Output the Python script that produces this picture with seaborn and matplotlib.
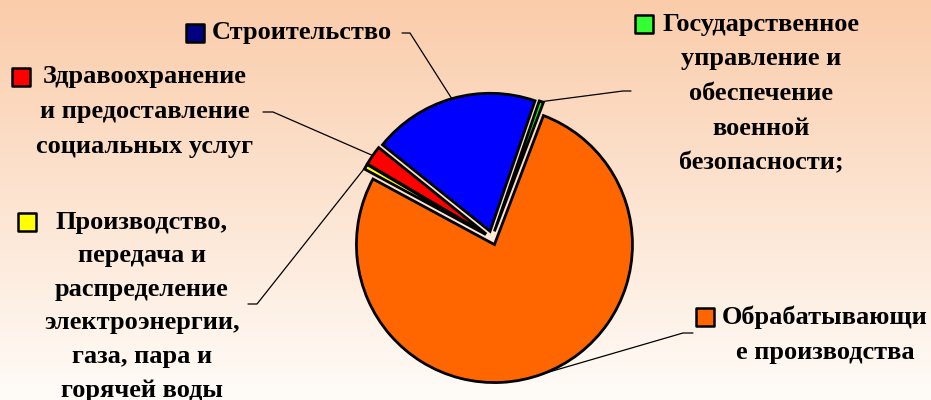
import numpy as np
import matplotlib
matplotlib.use("Agg")
import matplotlib.pyplot as plt
import seaborn as sns

# data (order: clockwise from the top)
categories = [
    "Государственное управление и обеспечение военной безопасности;",
    "Обрабатывающие производства",
    "Производство, передача и распределение электроэнергии, газа, пара и горячей воды",
    "Здравоохранение и предоставление социальных услуг",
    "Строительство",
]
shares = [0.5, 77.1, 0.6, 2.3, 19.5]
slice_colors = ["#00FF00", "#FF6600", "#FFFF00", "#FF0000", "#0000FF"]
key_colors = ["#33FF33", "#FF6600", "#FFFF00", "#FF0000", "#000080"]

# label lines as they wrap on the picture
label_lines = [
    ["Государственное", "управление и", "обеспечение", "военной", "безопасности;"],
    ["Обрабатывающи", "е производства"],
    ["Производство,", "передача и", "распределение", "электроэнергии,", "газа, пара и", "горячей воды"],
    ["Здравоохранение", "и предоставление", "социальных услуг"],
    ["Строительство"],
]

W, H = 931, 400
sns.set_style("white")
plt.rcParams["font.family"] = ["Liberation Serif", "DejaVu Serif"]

fig = plt.figure(figsize=(W / 100, H / 100), dpi=100)

# background gradient
bg = fig.add_axes([0, 0, 1, 1])
grad = np.linspace(0, 1, 256)[:, None]
top = np.array([250, 204, 170]) / 255
bottom = np.array([255, 252, 248]) / 255
img = top[None, None, :] * (1 - grad[..., None]) + bottom[None, None, :] * grad[..., None]
bg.imshow(img, aspect="auto", extent=[0, 1, 0, 1])
bg.axis("off")

ax = fig.add_axes([0, 0, 1, 1])
ax.patch.set_alpha(0)

def py(y):
    # pixel row (from top) to data y
    return H - y

wedges, _ = ax.pie(
    shares,
    colors=slice_colors,
    startangle=71,
    counterclock=False,
    radius=138,
    center=(492, py(238)),
    explode=[7] * len(shares),
    wedgeprops=dict(edgecolor="black", linewidth=2),
)
ax.set_xlim(0, W)
ax.set_ylim(0, H)
ax.set_aspect("equal")
ax.axis("off")

# layout of labels: key centre x, first line y, text centre x, leader tick (x_near, x_far, y)
layout = [
    dict(key_x=644, y0=24, cx=761, step=34.8, tick=(631, 623, 91)),
    dict(key_x=705, y0=317, cx=825, step=36, tick=(693, 683, 333)),
    dict(key_x=27, y0=222, cx=142, step=33.6, tick=(248, 257, 304)),
    dict(key_x=21, y0=77, cx=145, step=34.5, tick=(263, 273, 112)),
    dict(key_x=195, y0=33, cx=302, step=34.5, tick=(402, 410, 33)),
]

txt_kw = dict(fontsize=19, fontweight="bold", color="black", ha="center", va="center")

for w, lines, lay, kc in zip(wedges, label_lines, layout, key_colors):
    for i, line in enumerate(lines):
        ax.text(lay["cx"], py(lay["y0"] + i * lay["step"]), line, **txt_kw)
    ax.scatter([lay["key_x"]], [py(lay["y0"])], marker="s", s=150,
               color=kc, edgecolor="black", linewidth=1.8, zorder=5)
    # leader line from wedge arc midpoint
    th = np.deg2rad((w.theta1 + w.theta2) / 2)
    cx, cy = w.center
    ex, ey = cx + w.r * np.cos(th), cy + w.r * np.sin(th)
    x_near, x_far, ty = lay["tick"]
    ax.plot([x_near, x_far, ex], [py(ty), py(ty), ey], color="black", lw=0.9, zorder=1)

fig.savefig("out.png", dpi=100)
